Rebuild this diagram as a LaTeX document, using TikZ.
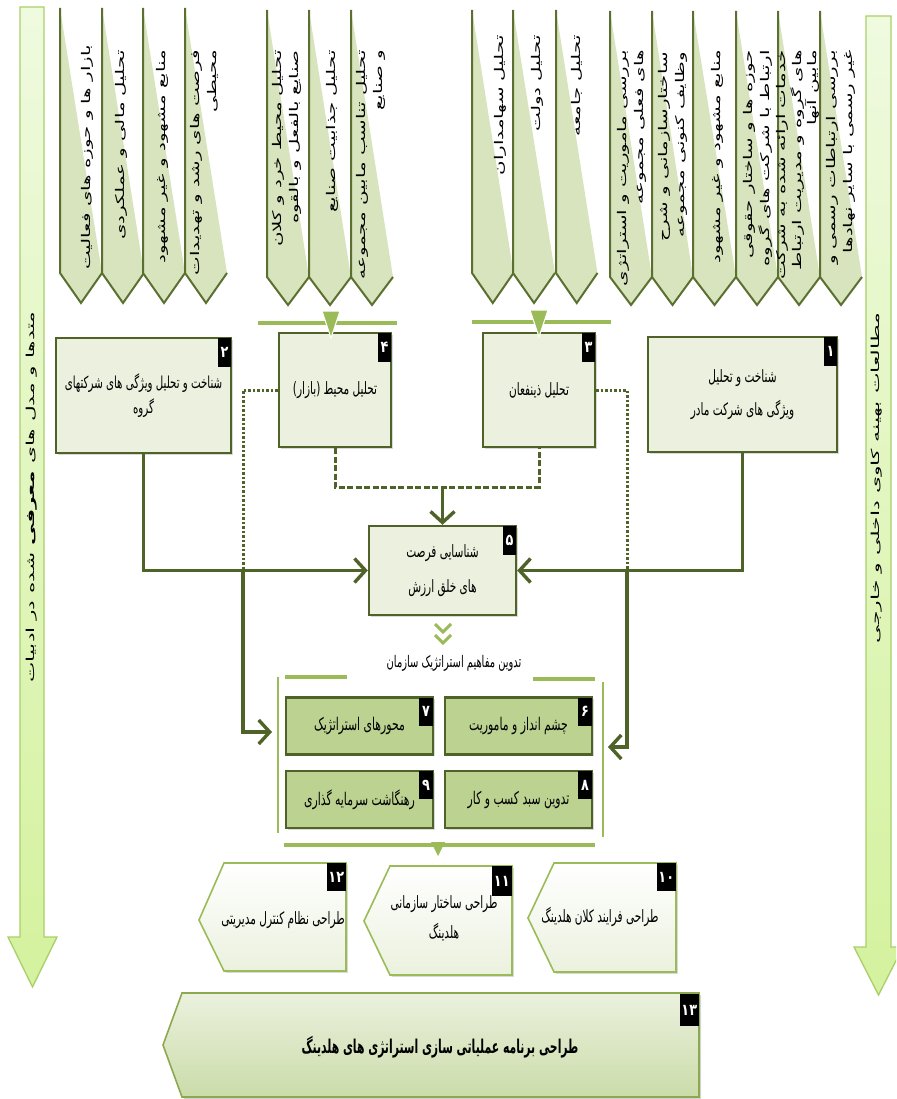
\documentclass[tikz,border=0pt]{standalone}
\usepackage{fontspec}
\usetikzlibrary{arrows.meta,shadows}
\TeXXeTstate=1
\newfontfamily\fafont[Script=Arabic]{DejaVu Sans}
\newfontfamily\faboxf[Script=Arabic,FakeStretch=0.62]{DejaVu Sans}
\newfontfamily\fatitle[Script=Arabic,FakeStretch=0.57]{DejaVu Sans}
\newfontfamily\fadig[Script=Arabic,FakeStretch=0.8]{DejaVu Sans}
\newfontfamily\fawide[Script=Arabic,FakeStretch=1.65]{DejaVu Sans}
\newcommand\fatx[1]{\beginR#1\endR}
\definecolor{dkol}{HTML}{4F6228}
\definecolor{olv}{HTML}{9BBB59}
\definecolor{ltg}{HTML}{EBF1DE}
\definecolor{mdg}{HTML}{BCD291}
\definecolor{wdg}{HTML}{D7E4BD}
\definecolor{bln}{HTML}{5B7030}
\definecolor{sidetop}{HTML}{EFFADF}
\definecolor{sidebot}{HTML}{D4F29E}
\definecolor{sidebd}{HTML}{A9CF68}
\tikzset{
 box/.style={draw=dkol, line width=2.4pt, fill=ltg, align=center, inner sep=2pt,
   font=\faboxf\fontsize{17}{28}\selectfont,
   drop shadow={shadow xshift=1.8pt, shadow yshift=-1.8pt, opacity=0.3}},
 gbox/.style={box, fill=mdg, minimum width=147pt, minimum height=57pt,
   font=\faboxf\fontsize{17.5}{18}\selectfont},
 badge/.style={fill=black, text=white, inner sep=0pt, minimum width=13pt, minimum height=29pt,
   anchor=north east, font=\fadig\bfseries\fontsize{16}{16}\selectfont},
 conn/.style={draw=dkol, line width=3.4pt},
 arr/.style={conn, -{Straight Barb[length=11pt,width=24pt]}},
 dashc/.style={draw=dkol, line width=3pt, dash pattern=on 6pt off 2.5pt},
 dotc/.style={draw=dkol, line width=3pt, dash pattern=on 2.5pt off 2pt},
 bar/.style={draw=olv, line width=4.5pt},
 gline/.style={draw=olv, line width=2.2pt},
 bline/.style={draw=bln, line width=2pt, line join=miter},
 btxt/.style={rotate=90, anchor=east, align=right, inner sep=0pt,
   font=\fawide\fontsize{12}{17}\selectfont},
 sidearrow/.style={draw=sidebd, line width=1.3pt, top color=sidetop, bottom color=sidebot},
 hexs/.style={draw=olv, line width=1.6pt, top color=white, bottom color=ltg,
   drop shadow={shadow xshift=1.8pt, shadow yshift=-1.8pt, opacity=0.3}},
 htxt/.style={align=center, inner sep=1pt, font=\faboxf\fontsize{17}{30}\selectfont},
 chev/.style={draw=olv, line width=3pt},
 tri/.style={fill=olv, draw=white, line width=1pt},
}
\newcommand\bann[5]{%
 \fill[wdg] (#1,#2) -- ({#1+#5},#3) -- ({#1+#5/2},#4) -- (#1,#3) -- cycle;
 \draw[bline] (#1,#2) -- (#1,#3) -- ({#1+#5/2},#4) -- ({#1+#5},#3);}
\begin{document}
\begin{tikzpicture}[x=1pt,y=-1pt]
\useasboundingbox (0,0) rectangle (896,1099);
\clip (0,0) rectangle (896,1099);

% ---------- side arrows ----------
\path[sidearrow] (20,7) -- (44,7) -- (44,937) -- (57,937) -- (32.5,987) -- (8,937) -- (20,937) -- cycle;
\path[sidearrow] (866,16) -- (891,16) -- (891,947) -- (903,947) -- (878.5,995) -- (854,947) -- (866,947) -- cycle;
\node[rotate=90, inner sep=0pt] (sl) at (32,497)
  {\resizebox{371pt}{\height}{\fafont\fontsize{11}{11}\selectfont\fatx{متدها و مدل های {\bfseries معرفی} شده در ادبیات}}};
\node[rotate=90, inner sep=0pt] (sr) at (877,478)
  {\resizebox{330pt}{\height}{\fafont\fontsize{11}{11}\selectfont\fatx{مطالعات بهینه کاوی داخلی و خارجی}}};

% ---------- banners ----------
\bann{60}{8}{273}{303}{42}\bann{102}{8}{273}{303}{42}\bann{143}{8}{273}{303}{42}\bann{185}{8}{273}{303}{42}
\bann{267}{10}{277}{305}{42}\bann{309}{10}{277}{305}{42}\bann{351}{10}{277}{305}{42}
\bann{472}{10}{273}{303}{41.5}\bann{513}{10}{273}{303}{42}\bann{556}{10}{273}{303}{41.5}
\bann{610}{11}{277}{305}{42}\bann{652}{11}{277}{305}{41}\bann{693}{11}{277}{305}{43}
\bann{736}{11}{277}{305}{42}\bann{778}{11}{277}{305}{42}\bann{820}{11}{277}{305}{42}

\node[btxt] (ta1) at (87,45) {\fatx{بازار ها و حوزه های فعالیت}};
\node[btxt] (ta2) at (121,50) {\fatx{تحلیل مالی و عملکردی}};
\node[btxt] (ta3) at (162,50) {\fatx{منابع مشهود و غیر مشهود}};
\node[btxt] (ta4) at (204,50) {\fatx{فرصت های رشد و تهدیدات}\\\fatx{محیطی}};
\node[btxt] (tb1) at (287,50) {\fatx{تحلیل محیط خرد و کلان}\\\fatx{صنایع بالفعل و بالقوه}};
\node[btxt] (tb2) at (332,50) {\fatx{تحلیل جذابیت صنایع}};
\node[btxt] (tb3) at (371,50) {\fatx{تحلیل تناسب مابین مجموعه}\\\fatx{و صنایع}};
\node[btxt] (tc1) at (500,35) {\fatx{تحلیل سهامداران}};
\node[btxt] (tc2) at (537,35) {\fatx{تحلیل دولت}};
\node[btxt] (tc3) at (577,35) {\fatx{تحلیل جامعه}};
\node[btxt] (td1) at (632,50) {\fatx{بررسی ماموریت و استراتژی}\\\fatx{های فعلی مجموعه}};
\node[btxt] (td2) at (673,52) {\fatx{ساختارسازمانی و شرح}\\\fatx{وظایف کنونی مجموعه}};
\node[btxt] (td3) at (717,50) {\fatx{منابع مشهود و غیر مشهود}};
\node[btxt] (td4) at (758,50) {\fatx{حوزه ها و ساختار حقوقی}\\\fatx{ارتباط با شرکت های گروه}};
\node[btxt, font=\fawide\fontsize{12}{15.5}\selectfont] (td5) at (798,50) {\fatx{خدمات ارائه شده به شرکت}\\\fatx{های گروه و مدیریت ارتباط}\\\fatx{مابین آنها}};
\node[btxt] (td6) at (841,50) {\fatx{بررسی ارتباطات رسمی و}\\\fatx{غیر رسمی با سایر نهادها}};

% ---------- bars above boxes 4 and 3 ----------
\draw[bar] (258,323) -- (397,323);
\draw[bar] (472,322) -- (611,322);

% ---------- main boxes ----------
\node[box, minimum width=175pt, minimum height=115pt, font=\faboxf\fontsize{16.5}{25}\selectfont] (b2) at (143.5,395.5)
  {\fatx{شناخت و تحلیل ویژگی های شرکتهای}\\\fatx{گروه}};
\node[box, minimum width=112pt, minimum height=114pt] (b4) at (335,390) {\fatx{تحلیل محیط (بازار)}};
\node[box, minimum width=112pt, minimum height=114pt] (b3) at (539,390) {\fatx{تحلیل ذینفعان}};
\node[box, minimum width=189pt, minimum height=115pt, font=\faboxf\fontsize{17}{33}\selectfont] (b1) at (742.5,394.5)
  {\fatx{شناخت و تحلیل}\\\fatx{ویژگی های شرکت مادر}};
\node[box, minimum width=147pt, minimum height=89pt, font=\faboxf\fontsize{17}{35}\selectfont] (b5) at (442.5,570.5)
  {\fatx{شناسایی فرصت}\\\fatx{های خلق ارزش}};

\node[badge] (n2) at ([xshift=-1pt,yshift=-1pt]b2.north east) {۲};
\node[badge] (n4) at ([xshift=-1pt,yshift=-1pt]b4.north east) {۴};
\node[badge] (n3) at ([xshift=-1pt,yshift=-1pt]b3.north east) {۳};
\node[badge] (n1) at ([xshift=-1pt,yshift=-1pt]b1.north east) {۱};
\node[badge] (n5) at ([xshift=-1pt,yshift=-1pt]b5.north east) {۵};

\fill[tri] (322,311) -- (340,311) -- (331,338) -- cycle;
\fill[tri] (530,310) -- (548,310) -- (539,337) -- cycle;

% ---------- connectors ----------
\coordinate (jn) at (442.5,487);
\coordinate (dl) at (243,570.5);
\coordinate (dr) at (627,570.5);
\coordinate (gl) at (272,732);
\coordinate (gr) at (608,747);
\draw[arr] (b2.south) |- (b5.west);
\draw[arr] (b1.south) |- (b5.east);
\draw[dashc] (b4.south) |- (jn) -| (b3.south);
\draw[arr] (jn) -- (b5.north);
\draw[dotc] (b4.west) -| (dl);
\draw[dotc] (b3.east) -| (dr);
\draw[arr] (dl) |- (gl);
\draw[arr] (dr) |- (gr);

% ---------- strategic concepts ----------
\draw[chev] (435,624) -- (443,632) -- (451,624);
\draw[chev] (435,635) -- (443,643) -- (451,635);
\node[font=\faboxf\fontsize{16}{18}\selectfont] (tsc) at (454,663) {\fatx{تدوین مفاهیم استراتژیک سازمان}};

\draw[gline] (278,677) -- (278,833);
\draw[gline] (603,682) -- (603,837);
\draw[bar] (285,677) -- (347,677);
\draw[bar] (533,679) -- (595,679);
\draw[bar] (284,845) -- (595,845);
\fill[olv] (431,842) -- (445,842) -- (438,856) -- cycle;

\node[gbox] (b7) at (359.5,726) {\fatx{محورهای استراتژیک}};
\node[gbox] (b6) at (518.5,726) {\fatx{چشم انداز و ماموریت}};
\node[gbox] (b9) at (359.5,799.5) {\fatx{رهنگاشت سرمایه گذاری}};
\node[gbox] (b8) at (518.5,799.5) {\fatx{تدوین سبد کسب و کار}};
\node[badge, minimum width=14pt, minimum height=28pt] (n7) at ([xshift=-1pt,yshift=-1pt]b7.north east) {۷};
\node[badge, minimum width=14pt, minimum height=28pt] (n6) at ([xshift=-1pt,yshift=-1pt]b6.north east) {۶};
\node[badge, minimum width=14pt, minimum height=28pt] (n9) at ([xshift=-1pt,yshift=-1pt]b9.north east) {۹};
\node[badge, minimum width=14pt, minimum height=28pt] (n8) at ([xshift=-1pt,yshift=-1pt]b8.north east) {۸};

% ---------- design shapes ----------
\path[hexs] (199,920) -- (224,863) -- (346,863) -- (346,971) -- (224,971) -- cycle;
\path[hexs] (364,921) -- (390,866) -- (512,866) -- (512,975) -- (390,975) -- cycle;
\path[hexs] (528,918) -- (554,863) -- (676,863) -- (676,972) -- (554,972) -- cycle;
\node[badge, minimum width=19pt, minimum height=28pt] (n12) at (346,863) {۱۲};
\node[badge, minimum width=20pt, minimum height=30pt] (n11) at (512,866) {۱۱};
\node[badge, minimum width=19pt, minimum height=28pt] (n10) at (676,863) {۱۰};
\node[htxt] (h12) at (283,920) {\fatx{طراحی نظام کنترل مدیریتی}};
\node[htxt] (h11) at (444,918) {\fatx{طراحی ساختار سازمانی}\\\fatx{هلدینگ}};
\node[htxt] (h10) at (600,917) {\fatx{طراحی فرایند کلان هلدینگ}};

\path[draw=olv!80!dkol, line width=1.6pt, top color=ltg, bottom color=wdg!80!olv,
  drop shadow={shadow xshift=2pt, shadow yshift=-2pt, opacity=0.35}]
  (163,1045) -- (182,993) -- (699,993) -- (699,1097) -- (182,1097) -- cycle;
\node[badge, minimum width=19pt, minimum height=32pt] (n13) at (699,994) {۱۳};
\node[font=\fatitle\bfseries\fontsize{19}{21}\selectfont] (h13) at (440,1047) {\fatx{طراحی برنامه عملیاتی سازی استراتژی های هلدینگ}};
\end{tikzpicture}
\end{document}
